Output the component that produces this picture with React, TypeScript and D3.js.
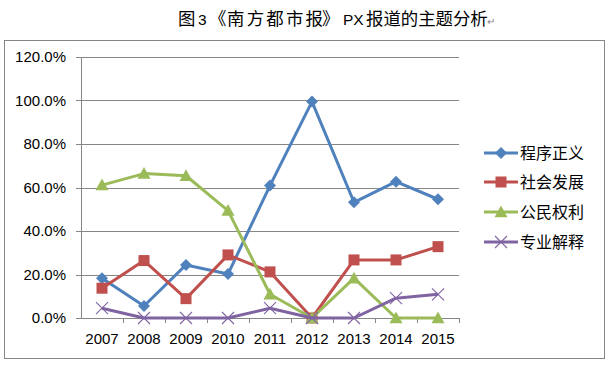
import * as d3 from "d3";
import { useEffect } from "react";

const years = ["2007", "2008", "2009", "2010", "2011", "2012", "2013", "2014", "2015"];
const seriesNames = ["程序正义", "社会发展", "公民权利", "专业解释"];
const chengxu = [18.3, 5.5, 24.4, 20.2, 60.9, 99.5, 53.2, 62.7, 54.6];
const shehui = [13.7, 26.4, 8.9, 29.0, 21.2, 0, 26.7, 26.7, 32.8];
const gongmin = [61.1, 66.4, 65.4, 49.4, 10.9, 0, 18.3, 0, 0];
const zhuanye = [4.5, 0, 0, 0, 4.5, 0, 0, 9.1, 10.9];
const yTicks = [0, 20, 40, 60, 80, 100, 120];
const titleParts = ["图", "3", "《", "南方都市报", "》", "PX", "报道的主题分析"];

const colors = ["#4F81BD", "#C0504D", "#9BBB59", "#8064A2"];
const markers = ["diamond", "square", "triangle", "x"];

const W = 609;
const H = 366;
const plot = { left: 81, right: 459, top: 57, bottom: 318 };
const numFont = "'Liberation Sans', Arial, sans-serif";
const cjkFont = "'Noto Sans CJK SC', sans-serif";

function Marker({ kind, x, y, color }: { kind: string; x: number; y: number; color: string }) {
  if (kind === "diamond") {
    const s = 6;
    return <path d={`M${x},${y - s}L${x + s},${y}L${x},${y + s}L${x - s},${y}Z`} fill={color} />;
  }
  if (kind === "square") {
    const s = 5.5;
    return <rect x={x - s} y={y - s} width={s * 2} height={s * 2} fill={color} />;
  }
  if (kind === "triangle") {
    const s = 6.5;
    return <path d={`M${x},${y - s}L${x + s},${y + s * 0.8}L${x - s},${y + s * 0.8}Z`} fill={color} />;
  }
  const s = 6;
  return (
    <path d={`M${x - s},${y - s}L${x + s},${y + s}M${x + s},${y - s}L${x - s},${y + s}`}
      stroke={color} strokeWidth={1.1} fill="none" />
  );
}

export default function App() {
  useEffect(() => {
    document.body.style.margin = "0";
  }, []);

  const data = [chengxu, shehui, gongmin, zhuanye];

  const x = d3.scaleBand().domain(years).range([plot.left, plot.right]);
  const y = d3.scaleLinear().domain([0, 120]).range([plot.bottom, plot.top]);
  const cx = (yr: string) => (x(yr) ?? 0) + x.bandwidth() / 2;

  const line = d3
    .line<number>()
    .x((_, i) => cx(years[i]))
    .y((d) => y(d));

  const legendX = 484;
  const legendY = [153, 182, 212, 242];
  // title pieces laid out left to right like the Word caption
  const titleX = [178, 198, 209, 227, 322, 343, 366];
  const isLatin = (i: number) => i === 1 || i === 5;

  return (
    <svg width={W} height={H} style={{ display: "block", background: "#fff" }}>
      {titleParts.map((p, i) => (
        <text key={"t" + i} x={titleX[i]} y={25}
          fontFamily={isLatin(i) ? numFont : cjkFont}
          fontSize={isLatin(i) ? 15.5 : 17.4} fill="#000"
          textLength={i === 3 ? 96 : undefined} lengthAdjust="spacing">
          {p}
        </text>
      ))}
      <text x={487} y={25} fontFamily={numFont} fontSize={10} fill="#888">↵</text>

      <rect x={4.5} y={40.5} width={600} height={318} fill="#fff" stroke="#868686" strokeWidth={1} />

      {yTicks.map((t) => (
        <g key={t}>
          <line x1={plot.left} x2={plot.right} y1={Math.round(y(t)) + 0.5} y2={Math.round(y(t)) + 0.5}
            stroke="#868686" strokeWidth={1} />
          <line x1={plot.left - 5} x2={plot.left} y1={Math.round(y(t)) + 0.5} y2={Math.round(y(t)) + 0.5}
            stroke="#868686" strokeWidth={1} />
          <text x={66} y={y(t) + 5} textAnchor="end" fontFamily={numFont} fontSize={15} fill="#000">
            {t.toFixed(1)}%
          </text>
        </g>
      ))}
      <line x1={plot.left + 0.5} x2={plot.left + 0.5} y1={plot.top} y2={plot.bottom} stroke="#868686" />
      {years.map((yr) => (
        <line key={"tk" + yr} x1={Math.round((x(yr) ?? 0) + x.bandwidth()) + 0.5}
          x2={Math.round((x(yr) ?? 0) + x.bandwidth()) + 0.5}
          y1={plot.bottom} y2={plot.bottom + 5} stroke="#868686" />
      ))}
      {years.map((yr) => (
        <text key={"xl" + yr} x={cx(yr)} y={344} textAnchor="middle" fontFamily={numFont} fontSize={15} fill="#000">
          {yr}
        </text>
      ))}

      {data.map((vals, si) => (
        <g key={"s" + si}>
          <path d={line(vals) ?? ""} fill="none" stroke={colors[si]} strokeWidth={3} strokeLinejoin="round" />
          {vals.map((v, i) => (
            <Marker key={i} kind={markers[si]} x={cx(years[i])} y={y(v)} color={colors[si]} />
          ))}
        </g>
      ))}

      {seriesNames.map((name, si) => (
        <g key={"lg" + si}>
          <line x1={legendX} x2={legendX + 34} y1={legendY[si]} y2={legendY[si]} stroke={colors[si]} strokeWidth={3} />
          <Marker kind={markers[si]} x={legendX + 17} y={legendY[si]} color={colors[si]} />
          <text x={legendX + 36} y={legendY[si] + 6} fontFamily={cjkFont} fontSize={16} fill="#000">
            {name}
          </text>
        </g>
      ))}
    </svg>
  );
}
